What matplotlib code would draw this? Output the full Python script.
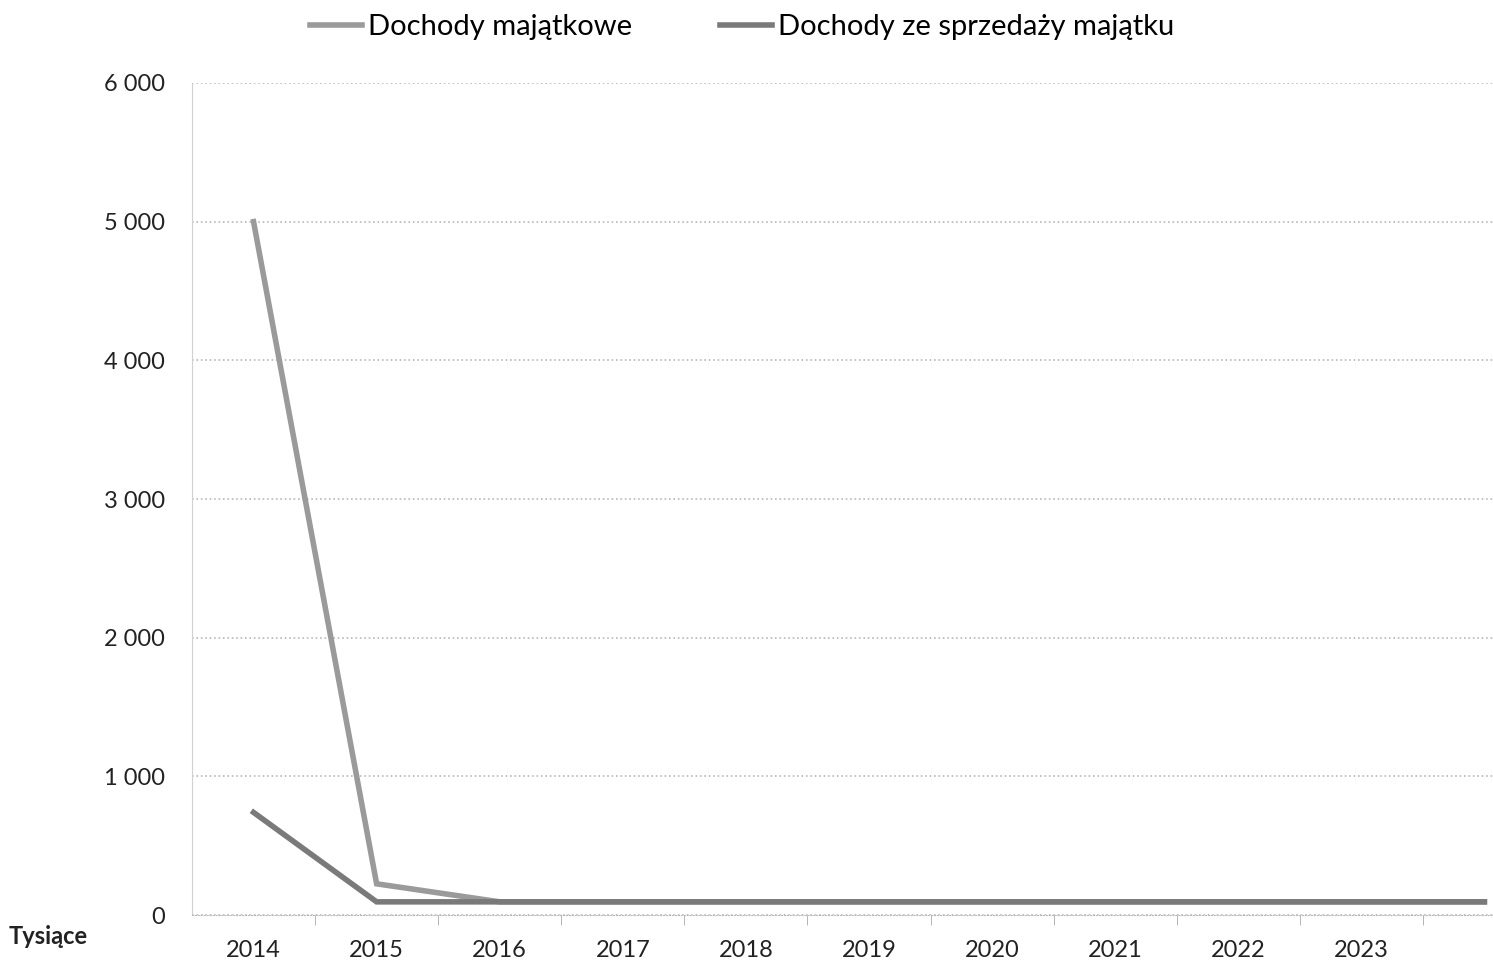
from matplotlib import pyplot as plt
import matplotlib

# dane (tys. zł)
lata = ["2014", "2015", "2016", "2017", "2018", "2019", "2020",
        "2021", "2022", "2023", "2024"]
dochody_majatkowe = [5000, 225, 95, 95, 95, 95, 95, 95, 95, 95, 95]
dochody_sprzedaz = [740, 95, 95, 95, 95, 95, 95, 95, 95, 95, 95]
y_ticks = [0, 1000, 2000, 3000, 4000, 5000, 6000]
y_labels = ["0", "1 000", "2 000", "3 000", "4 000", "5 000", "6 000"]


def main():
    matplotlib.rc("font", family=["Lato", "DejaVu Sans"])
    fig = plt.figure(figsize=(14.93, 9.65), dpi=100)
    ax = fig.add_axes([0.1286, 0.0518, 0.8714, 0.8622])

    x = range(len(lata))
    ax.plot(x, dochody_majatkowe, color="#9a9a9a", linewidth=4,
            label="Dochody majątkowe", solid_joinstyle="miter")
    ax.plot(x, dochody_sprzedaz, color="#7a7a7a", linewidth=4,
            label="Dochody ze sprzedaży majątku", solid_joinstyle="miter")

    ax.set_xlim(-0.5, 10.07)
    ax.set_ylim(0, 6000)

    # etykiety osi X w środku kategorii, kreski między kategoriami
    ax.set_xticks(list(x)[:-1])
    ax.set_xticklabels(lata[:-1], fontsize=17, color="#222222")
    ax.set_xticks([i + 0.5 for i in range(len(lata) - 1)], minor=True)
    ax.tick_params(axis="x", which="major", length=0, pad=18)
    ax.tick_params(axis="x", which="minor", length=7, color="#aaaaaa",
                   direction="out")

    ax.set_yticks(y_ticks)
    ax.set_yticklabels(y_labels, fontsize=17, color="#222222")
    ax.tick_params(axis="y", length=0, pad=19.5)

    # siatka
    ax.grid(axis="y", color="#b8b8b8", linestyle=":", linewidth=1.2)
    ax.set_axisbelow(True)
    for s in ["top", "right"]:
        ax.spines[s].set_visible(False)
    ax.spines["left"].set_color("#d0d0d0")
    ax.spines["bottom"].set_color("#b8b8b8")
    ax.spines["bottom"].set_linestyle(":")

    fig.text(0.006, 0.022, "Tysiące", fontsize=17, fontweight="bold",
             color="#222222")

    fig.legend(loc="center", bbox_to_anchor=(0.497, 0.972), ncol=2,
               frameon=False, fontsize=21, handlelength=1.8,
               handletextpad=0.2, columnspacing=3.0)

    plt.savefig("out.png", dpi=100)


if __name__ == "__main__":
    main()
